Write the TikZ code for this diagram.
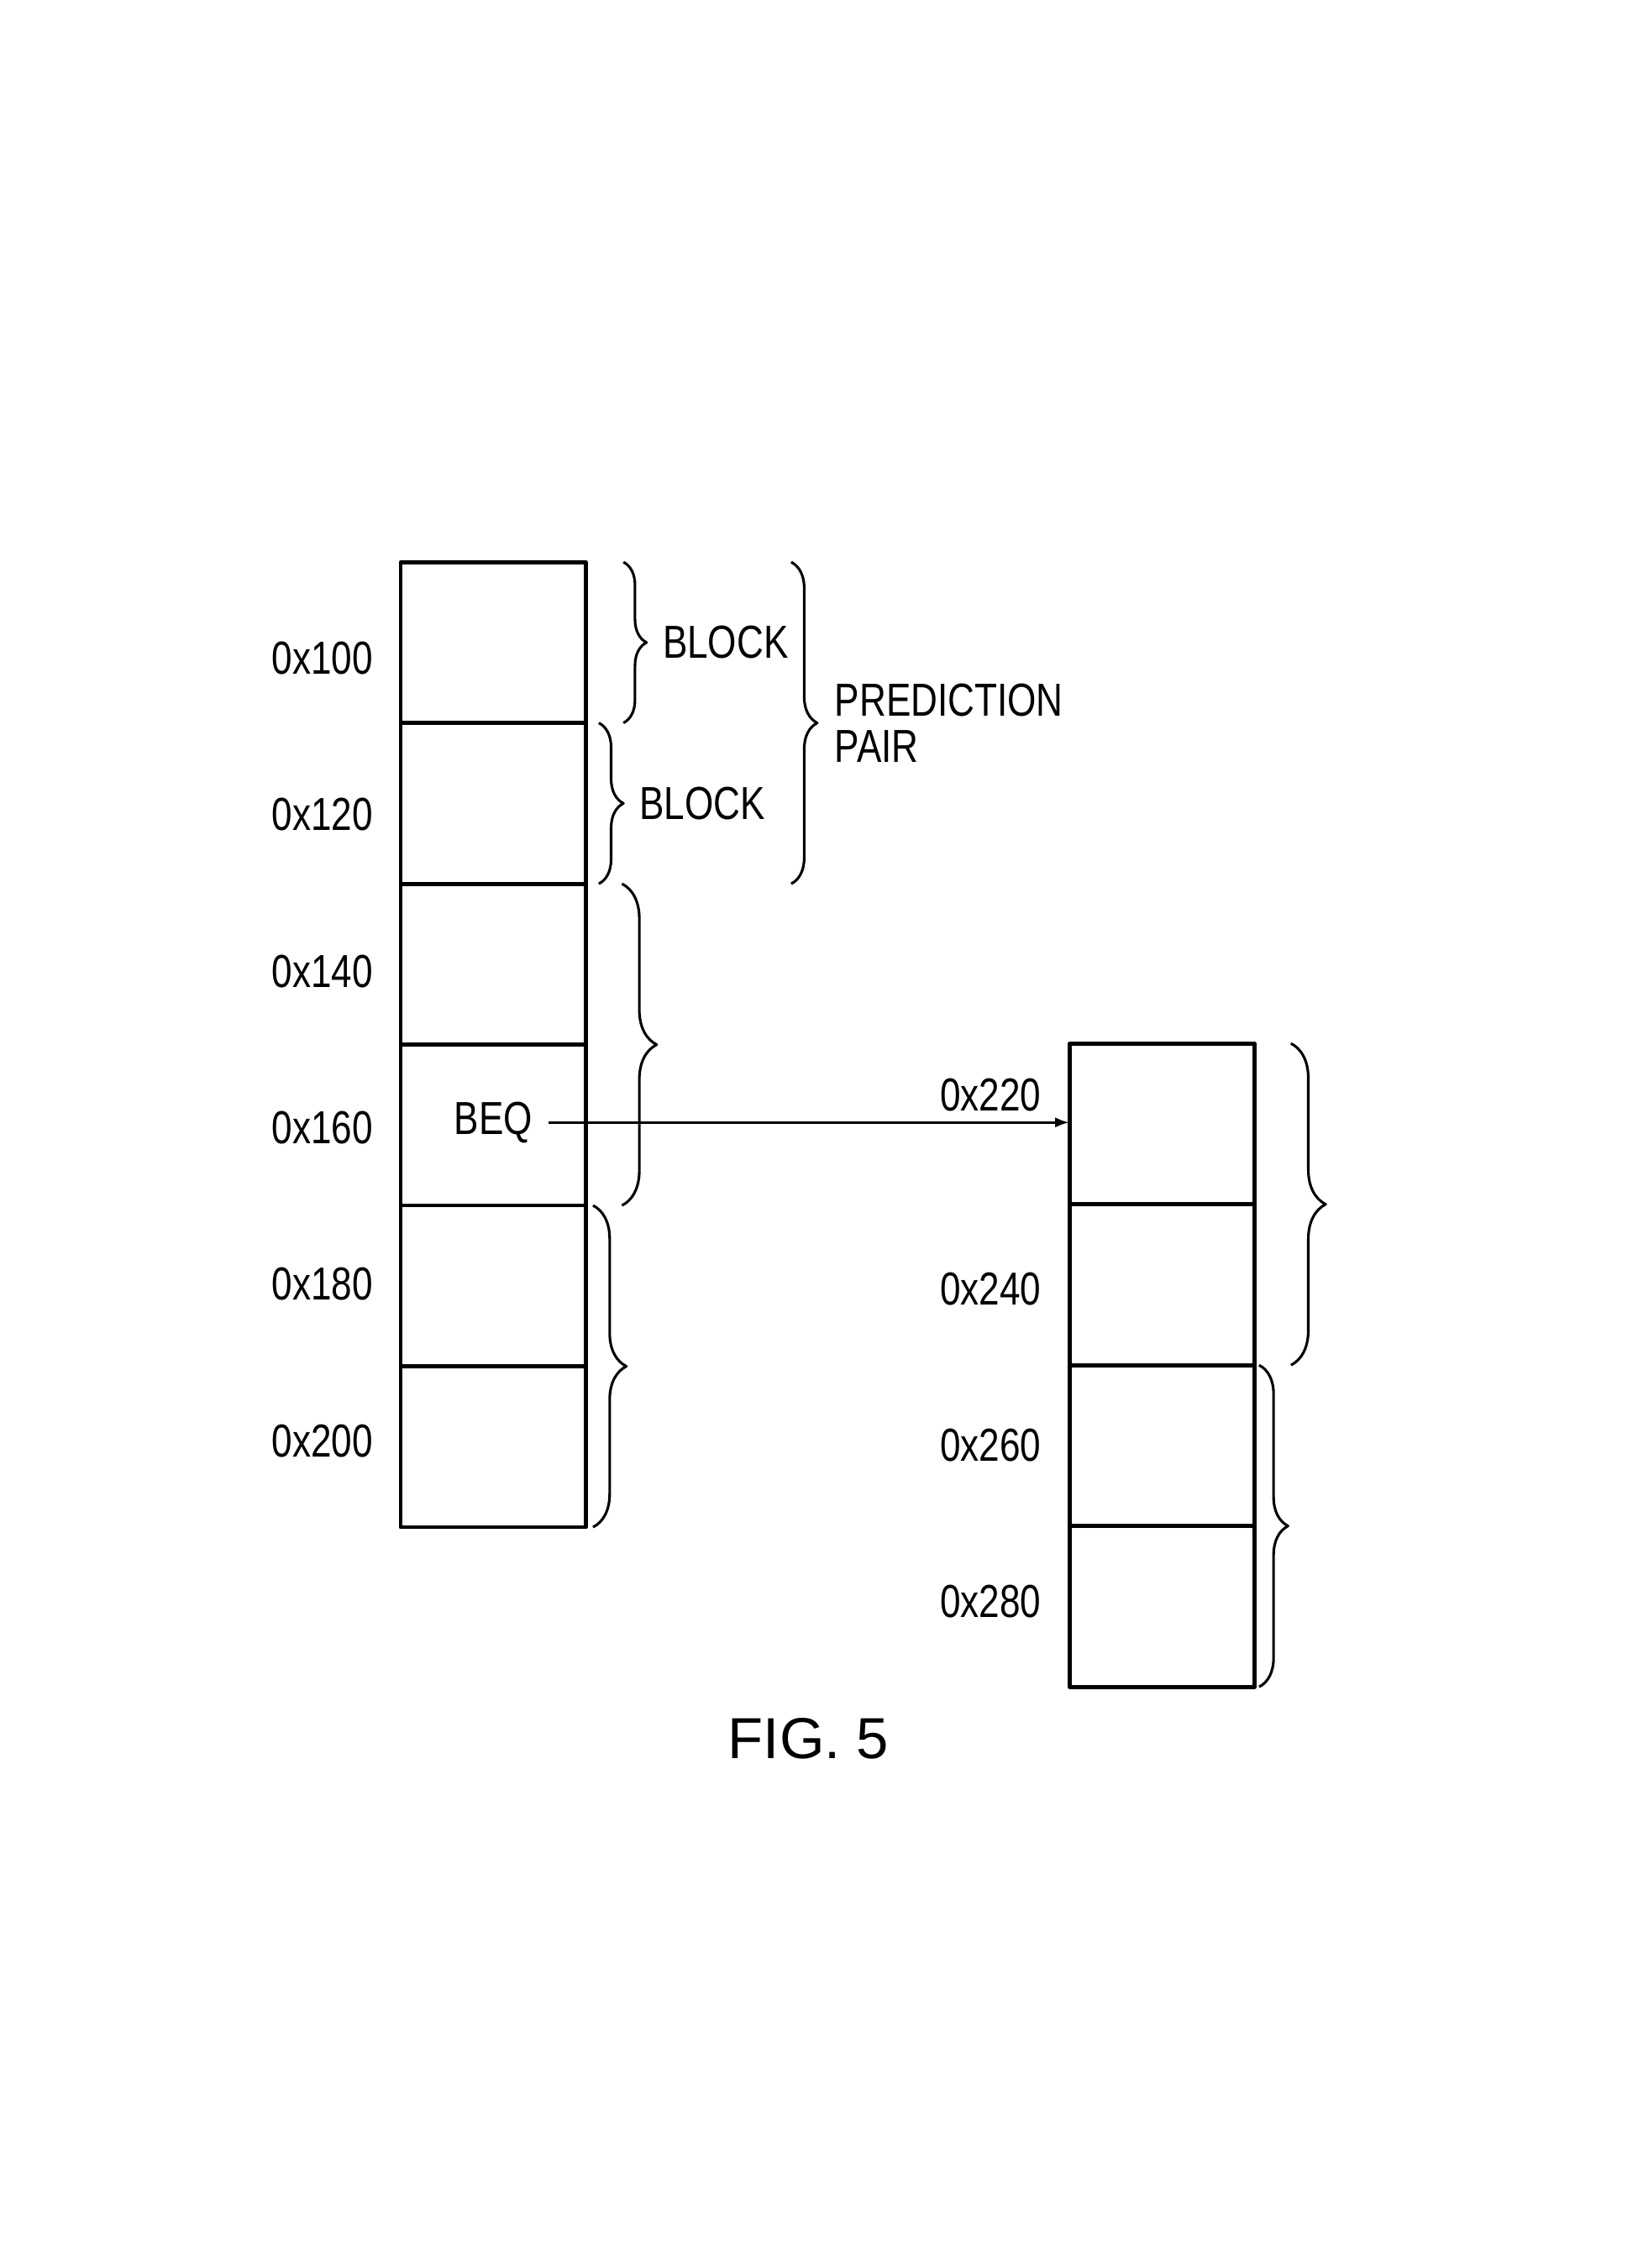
\documentclass[tikz,border=0pt]{standalone}
\usepackage{fontspec}
\setmainfont{Liberation Sans}[FakeStretch=0.8]
\newfontfamily\figfont{Liberation Sans}
\usetikzlibrary{arrows.meta,decorations.pathreplacing,positioning}

\begin{document}
\begin{tikzpicture}[x=1pt,y=-1pt,line join=round,>={Latex[length=10pt,width=7pt]},
  font=\fontsize{32}{32}\selectfont,
  cell/.style={draw,line width=2.8pt,minimum width=128pt,minimum height=111.2pt,
    inner sep=0pt,outer sep=0pt},
  addr/.style={anchor=east,inner sep=0pt},
  tag/.style={anchor=west,inner sep=0pt},
  brc/.style={decorate,decoration={brace,amplitude=#1},line width=1.8pt}]
  \useasboundingbox (0,0) rectangle (1132,1568);
  % source blocks 0x100 .. 0x200
  \foreach \i in {0,...,5}{
    \node[cell] (m\i) at (341,444.2+111.2*\i) {};
  }
  \foreach \a [count=\i from 0] in {100,120,140,160,180,200}{
    \node[addr] (a\a) at (258,455+108.2*\i) {0x\a};
  }
  % target blocks 0x220 .. 0x280
  \foreach \i in {0,...,3}{
    \node[cell] (t\i) at (803.5,777+111.2*\i) {};
  }
  \node[addr] (a220) at (720,757) {0x220};
  \node[addr] (a240) at (720,891) {0x240};
  \node[addr] (a260) at (720,999) {0x260};
  \node[addr] (a280) at (720,1107) {0x280};
  % branch
  \node[inner sep=0pt] (beq) at (341,776) {BEQ};
  \draw[->,line width=2pt,shorten <=11pt] (beq.east) -- (beq.east -| t0.west);
  % braces
  \draw[brc=16] ([xshift=26pt]m0.north east) -- ([xshift=26pt]m0.south east);
  \draw[brc=17] ([xshift=9pt]m1.north east) -- ([xshift=9pt]m1.south east);
  \draw[brc=18] ([xshift=142pt]m0.north east) -- ([xshift=142pt]m1.south east);
  \draw[brc=24] ([xshift=25pt]m2.north east) -- ([xshift=25pt]m3.south east);
  \draw[brc=23] ([xshift=5pt]m4.north east) -- ([xshift=5pt]m5.south east);
  \draw[brc=24] ([xshift=25pt]t0.north east) -- ([xshift=25pt]t1.south east);
  \draw[brc=20] ([xshift=3pt]t2.north east) -- ([xshift=3pt]t3.south east);
  \node[tag] (blk0) at ([xshift=53pt]m0.east) {BLOCK};
  \node[tag] (blk1) at ([xshift=37pt]m1.east) {BLOCK};
  \node[tag,align=left] (pair) at ([xshift=172pt]m0.south east) {PREDICTION\\PAIR};
  \node[font=\figfont\fontsize{40}{40}\selectfont] (fig) at (559,1202) {FIG. 5};
\end{tikzpicture}
\end{document}
